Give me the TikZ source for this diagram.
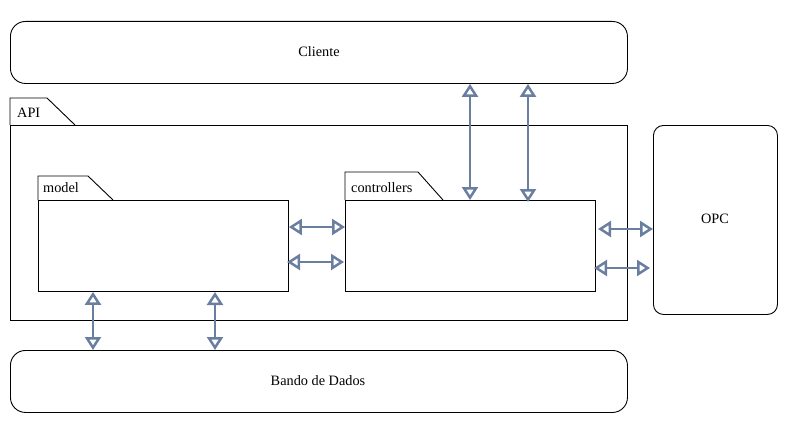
\documentclass[tikz,border=0pt]{standalone}
\usepackage{fontspec}
\setmainfont{Liberation Serif}
\newfontfamily\lserif{Liberation Serif}
\usetikzlibrary{arrows.meta,positioning,calc}
\definecolor{arr}{RGB}{106,126,160}
\tikzset{
  biarrow/.style={draw=arr,line width=2.5pt,arrows={Triangle[open,length=13pt,width=16pt]-Triangle[open,length=13pt,width=16pt]}}
}
\begin{document}
\begin{tikzpicture}[x=1pt,y=-1pt,
  box/.style={draw=black,line width=0.9pt,inner sep=0pt,anchor=north west},
  rbox/.style={box,rounded corners=15pt},
  lbl/.style={font=\lserif\fontsize{14.3}{16}\selectfont,inner sep=0pt}
]
\useasboundingbox (0,0) rectangle (791,428);
% Cliente
\node[rbox,minimum width=617pt,minimum height=62pt] (cli) at (10,21) {};
\node[lbl] (clit) at (319,52) {Cliente};
% Banco
\node[rbox,minimum width=617pt,minimum height=62pt] (bd) at (10,350) {};
\node[lbl] (bdt) at (318,381) {Bando de Dados};
% OPC
\node[box,rounded corners=10pt,minimum width=124pt,minimum height=189pt] (opc) at (653,125) {};
\node[lbl] (opct) at (715,219) {OPC};
% API package
\node[box,minimum width=617pt,minimum height=195pt] (api) at (10,125) {};
\draw[line width=0.9pt] (api.north west) -- (10,98) -- (47,98) -- (75,125);
\node[lbl,anchor=west] (apit) at (17,113) {API};
% model package
\node[box,minimum width=250pt,minimum height=91pt] (model) at (38,200) {};
\draw[line width=0.9pt] (model.north west) -- (38,176) -- (88,176) -- (113,200);
\node[lbl,anchor=west] (modelt) at (43,188) {model};
% controllers package
\node[box,minimum width=250pt,minimum height=91pt] (ctrl) at (345,200) {};
\draw[line width=0.9pt] (ctrl.north west) -- (345,172) -- (418,172) -- (443,200);
\node[lbl,anchor=west] (ctrlt) at (351,188) {controllers};
% arrows
\draw[biarrow] (470,0 |- cli.south) -- (470,0 |- ctrl.north);
\draw[biarrow] (528,0 |- cli.south) -- (528,202);
\draw[biarrow] (model.east |- 0,227) -- (ctrl.west |- 0,227);
\draw[biarrow] (287,262) -- (344,262);
\draw[biarrow] (598,229) -- (opc.west |- 0,229);
\draw[biarrow] (594,268) -- (650,268);
\draw[biarrow] (93,0 |- model.south) -- (93,0 |- bd.north);
\draw[biarrow] (215,292) -- (215,0 |- bd.north);
\end{tikzpicture}
\end{document}
